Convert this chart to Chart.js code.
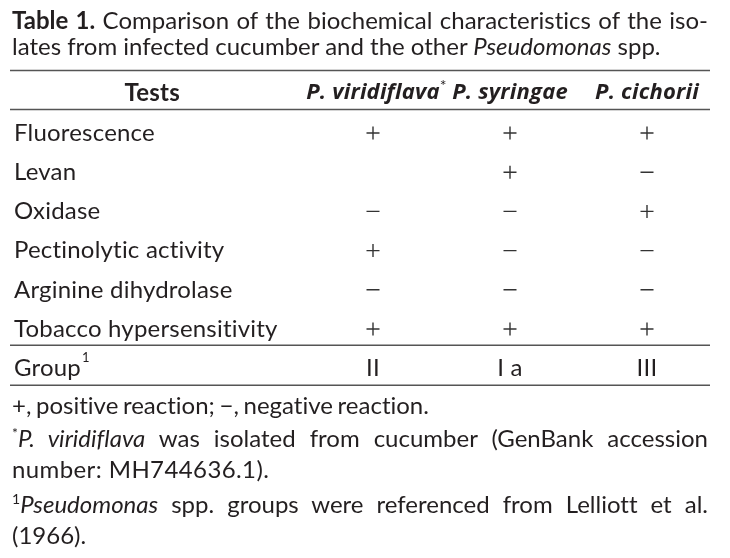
<!DOCTYPE html>
<html>
<head>
<meta charset="utf-8">
<script src="https://cdn.jsdelivr.net/npm/chart.js@4.4.1/dist/chart.umd.min.js"></script>
<style>
    body { margin: 0; background: #fff; }
    #wrap { position: relative; width: 730px; height: 558px; font-family: Lato, sans-serif; color: #231f20; font-variant-ligatures: none; }
    #tabela { position: absolute; left: 0; top: 0; }
    .linha { position: absolute; left: 12px; width: 696px; font-size: 24px; line-height: 28px; white-space: nowrap; }
    .just { white-space: normal; text-align: justify; text-align-last: justify; }
    sup { font-size: 14px; line-height: 0; vertical-align: 9px; }
</style>
</head>
<body>
<div id="wrap">
    <canvas id="tabela" width="730" height="558"></canvas>
    <div class="linha just" style="top:6px"><b>Table 1.</b> Comparison of the biochemical characteristics of the iso-</div>
    <div class="linha" style="top:32px">lates from infected cucumber and the other <i>Pseudomonas</i> spp.</div>
    <div class="linha" style="top:391px; word-spacing:-1.5px">+, positive reaction; −, negative reaction.</div>
    <div class="linha just" style="top:424px"><sup>*</sup><i>P. viridiflava</i> was isolated from cucumber (GenBank accession</div>
    <div class="linha" style="top:455px; letter-spacing:0.4px">number: MH744636.1).</div>
    <div class="linha just" style="top:490px"><sup>1</sup><i>Pseudomonas</i> spp. groups were referenced from Lelliott et al.</div>
    <div class="linha" style="top:521px">(1966).</div>
</div>
<script>
// dados da tabela
const testes = ['Fluorescence', 'Levan', 'Oxidase', 'Pectinolytic activity', 'Arginine dihydrolase', 'Tobacco hypersensitivity'];
const linhaGrupo = 'Group';
const especies = ['P. viridiflava', 'P. syringae', 'P. cichorii'];
const viridiflava = ['+', '', '−', '+', '−', '+'];
const syringae = ['+', '+', '−', '−', '−', '+'];
const cichorii = ['+', '−', '+', '−', '−', '+'];
const grupos = ['II', 'I a', 'III'];

const fonte = "Lato, sans-serif";
const fonteCab = "'Open Sans', sans-serif";
const tamanho = 24;
const tamanhoCab = 22;
const corTexto = '#231f20';
const corLinha = '#555';

// transforma a coluna de resultados em pontos (célula vazia não vira ponto)
function montarPontos(especie, resultados) {
    const pontos = [];
    resultados.forEach((r, i) => {
        if (r) pontos.push({ x: especie, y: testes[i], s: r });
    });
    return pontos;
}

const colunas = [viridiflava, syringae, cichorii];
const datasets = especies.map((esp, k) => ({
    label: esp,
    data: montarPontos(esp, colunas[k]),
    pointStyle: ctx => ctx.raw && ctx.raw.s === '+' ? 'cross' : 'line',
    pointRadius: 6.5,
    pointBorderWidth: 1.4,
    pointBorderColor: '#333',
    pointBackgroundColor: '#333'
}));

// um pouco de espaçamento entre letras tira as ligaduras do Lato no canvas
const semLigadura = {
    id: 'semLigadura',
    beforeDraw(chart) {
        chart.ctx.letterSpacing = '0.2px';
    }
};

// desenha réguas, cabeçalho "Tests", asterisco, sobrescrito e a linha dos grupos
const decoracao = {
    id: 'decoracao',
    afterDraw(chart) {
        const ctx = chart.ctx;
        const area = chart.chartArea;
        const x = chart.scales.x;
        const y = chart.scales.y;
        const esq = y.left - 4;
        const dir = area.right - 5.5;
        const yGrupo = y.getPixelForValue(testes.length);

        ctx.save();
        ctx.strokeStyle = corLinha;
        ctx.lineWidth = 1.5;
        [area.top - 43, area.top - 4, yGrupo - 23, yGrupo + 17].forEach(py => {
            ctx.beginPath();
            ctx.moveTo(esq, py);
            ctx.lineTo(dir, py);
            ctx.stroke();
        });

        ctx.fillStyle = corTexto;
        ctx.textBaseline = 'middle';
        ctx.textAlign = 'center';
        const yCab = area.top - 20;
        ctx.font = 'bold ' + tamanho + 'px ' + fonte;
        ctx.fillText('Tests', (esq + area.left - 10) / 2, yCab);

        // asterisco depois de P. viridiflava
        ctx.font = 'bold italic ' + tamanhoCab + 'px ' + fonteCab;
        const w = ctx.measureText(especies[0]).width;
        ctx.font = '16px ' + fonte;
        ctx.textAlign = 'left';
        ctx.fillText('*', x.getPixelForValue(0) + w / 2, yCab - 8);

        // sobrescrito em Group
        ctx.font = tamanho + 'px ' + fonte;
        const wg = ctx.measureText(linhaGrupo).width;
        ctx.font = '13px ' + fonte;
        ctx.fillText('1', y.left + wg + 1, yGrupo - 10);

        // valores da linha Group
        ctx.font = tamanho + 'px ' + fonte;
        ctx.textAlign = 'center';
        grupos.forEach((g, k) => ctx.fillText(g, x.getPixelForValue(k), yGrupo));
        ctx.restore();
    }
};

new Chart(document.getElementById('tabela'), {
    type: 'scatter',
    data: { datasets: datasets },
    options: {
        responsive: false,
        animation: false,
        events: [],
        layout: { padding: { left: 14, right: 14.5, top: 73.4, bottom: 170.2 } },
        plugins: { legend: { display: false }, tooltip: { enabled: false } },
        scales: {
            x: {
                type: 'category',
                labels: especies,
                position: 'top',
                offset: true,
                grid: { display: false, drawTicks: false },
                border: { display: false },
                ticks: {
                    autoSkip: false, maxRotation: 0, minRotation: 0, padding: 7,
                    color: corTexto,
                    font: { family: fonteCab, size: tamanhoCab, weight: 'bold', style: 'italic' }
                },
                afterFit: s => { s.height = 40; }
            },
            y: {
                type: 'category',
                labels: [...testes, linhaGrupo],
                offset: true,
                grid: { display: false, drawTicks: false },
                border: { display: false },
                ticks: {
                    autoSkip: false, crossAlign: 'far', padding: 0,
                    color: corTexto,
                    font: { family: fonte, size: tamanho }
                },
                afterFit: s => { s.width = 290.5; }
            }
        }
    },
    plugins: [semLigadura, decoracao]
});
</script>
</body>
</html>
